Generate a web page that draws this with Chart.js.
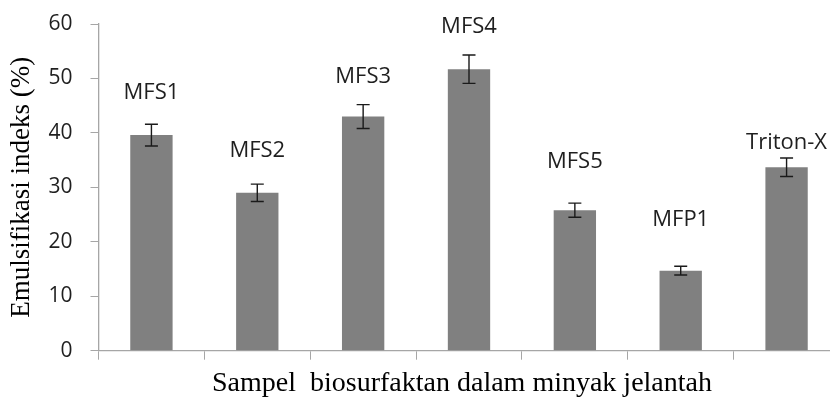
<!DOCTYPE html>
<html><head><meta charset="utf-8">
<script src="https://cdn.jsdelivr.net/npm/chart.js@4/dist/chart.umd.min.js"></script>
<style>html,body{margin:0;padding:0;overflow:hidden;background:#fff}#wrap{width:845px;height:398px}</style>
</head><body><div id="wrap"><canvas id="c" width="845" height="398"></canvas></div>
<script>
const categories = ['MFS1', 'MFS2', 'MFS3', 'MFS4', 'MFS5', 'MFP1', 'Triton-X'];
const values = [39.6, 29.0, 43.0, 51.7, 25.8, 14.7, 33.7];
const errors = [2.0, 1.6, 2.2, 2.6, 1.3, 0.8, 1.7];
const yTicks = [0, 10, 20, 30, 40, 50, 60];
const yTitle = 'Emulsifikasi indeks (%)';
const xTitle = 'Sampel  biosurfaktan dalam minyak jelantah  ';

const barExtras = {
  id: 'barExtras',
  afterDatasetsDraw(chart, args, opts) {
    const ctx = chart.ctx;
    const meta = chart.getDatasetMeta(0);
    const y = chart.scales.y;
    ctx.save();
    meta.data.forEach((bar, i) => {
      const x = bar.x;
      const top = y.getPixelForValue(values[i] + errors[i]);
      const bot = y.getPixelForValue(values[i] - errors[i]);
      ctx.strokeStyle = opts.errColor;
      ctx.lineWidth = opts.errWidth;
      ctx.beginPath();
      ctx.moveTo(x, top); ctx.lineTo(x, bot);
      ctx.moveTo(x - opts.cap, top); ctx.lineTo(x + opts.cap, top);
      ctx.moveTo(x - opts.cap, bot); ctx.lineTo(x + opts.cap, bot);
      ctx.stroke();
      ctx.fillStyle = opts.labelColor;
      ctx.font = opts.labelFont;
      ctx.textAlign = 'center';
      ctx.textBaseline = 'alphabetic';
      ctx.fillText(categories[i], x, top + opts.labelOffsets[i]);
    });
    ctx.restore();
  }
};

new Chart(document.getElementById('c'), {
  type: 'bar',
  data: {
    labels: categories,
    datasets: [{
      data: values,
      backgroundColor: '#808080',
      borderWidth: 0,
      barPercentage: 0.4,
      categoryPercentage: 1.0
    }]
  },
  plugins: [barExtras],
  options: {
    responsive: false,
    animation: false,
    devicePixelRatio: 1,
    layout: { padding: { top: 24, right: 5.5, left: 0, bottom: 0 } },
    plugins: {
      legend: { display: false },
      tooltip: { enabled: false },
      barExtras: {
        errColor: '#1a1a1a',
        errWidth: 1.4,
        cap: 6.5,
        labelColor: '#1f1f1f',
        labelFont: '22px "Open Sans"',
        labelOffsets: [-24.7, -27, -22, -22.3, -35.5, -40, -8.7]
      }
    },
    scales: {
      x: {
        type: 'category',
        grid: { display: true, drawOnChartArea: false, drawTicks: true, tickLength: 9, color: '#a6a6a6', offset: true },
        border: { display: true, color: '#a6a6a6', width: 1.3 },
        ticks: { display: false },
        title: {
          display: true, text: xTitle, color: '#000',
          font: { family: '"Liberation Serif"', size: 28, lineHeight: 1 },
          padding: { top: 1, bottom: 0 }
        },
        afterFit(s) { s.height = 47.3; s.paddingLeft = 0; s.paddingRight = 0; }
      },
      y: {
        min: 0, max: 60,
        afterBuildTicks(s) { s.ticks = yTicks.map(v => ({ value: v })); },
        grid: { display: true, drawOnChartArea: false, drawTicks: true, tickLength: 8, color: '#a6a6a6' },
        border: { display: true, color: '#a6a6a6', width: 1.3 },
        ticks: { color: '#1f1f1f', font: { family: '"Open Sans"', size: 21 }, padding: 18 },
        title: {
          display: true, text: yTitle, color: '#000',
          font: { family: '"Liberation Serif"', size: 27, lineHeight: 1.2 },
          padding: { top: 6, bottom: 0 }
        },
        afterFit(s) { s.width = 98.5; s.paddingTop = 0; s.paddingBottom = 0; }
      }
    }
  }
});
</script></body></html>
